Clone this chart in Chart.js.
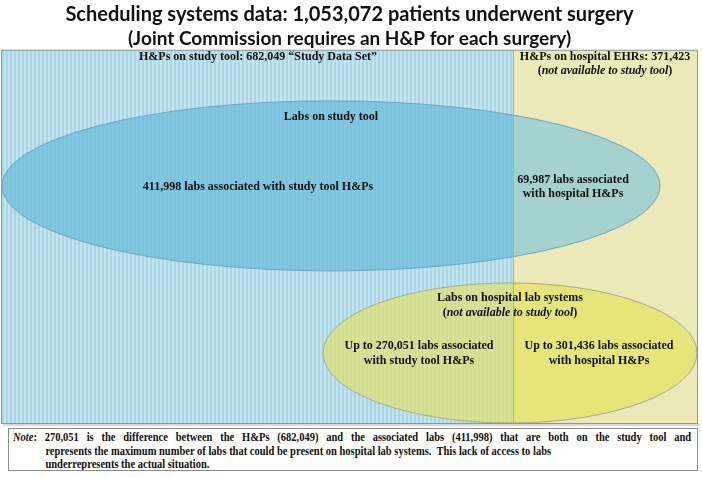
<!DOCTYPE html>
<html>
<head>
<meta charset="utf-8">
<script src="https://cdn.jsdelivr.net/npm/chart.js@4"></script>
<style>
  body { margin: 0; background: #fff; width: 702px; height: 477px; position: relative; overflow: hidden; }
  #wrap { position: absolute; left: 0; top: 0; width: 702px; height: 426px; }
  #note {
    position: absolute; left: 8px; top: 428px; width: 688px; height: 41px;
    border: 1px solid #8c8c8c; overflow: hidden;
  }
  #noteText {
    position: absolute; left: 4px; top: 2px; width: 775px;
    transform: scaleX(0.875); transform-origin: 0 0;
    font: bold 12px "Liberation Serif", "Times New Roman", serif; color: #111; line-height: 13.5px;
  }
  #noteText .l1 { text-align: justify; text-align-last: justify; }
  #noteText .ln { padding-left: 37px; }
</style>
</head>
<body>
<div id="wrap"><canvas id="chart" width="702" height="426"></canvas></div>
<div id="note"><div id="noteText"></div></div>
<script>
// numbers shown in the diagram
const totalPatients = 1053072;
const hpSources = ['study tool', 'hospital EHRs'];
const hpCounts = [682049, 371423];
const labSources = ['Labs on study tool', 'Labs on hospital lab systems'];
const studyToolLabs = [411998, 69987];   // with study tool H&Ps, with hospital H&Ps
const hospitalLabs = [270051, 301436];   // with study tool H&Ps, with hospital H&Ps

const fmt = n => n.toLocaleString('en-US');

// where things sit, in scale units (the scales run over the box in pixels)
const layout = {
  box: { x0: 1, x1: 698, y0: 50, y1: 424 },
  split: 513,
  blue: { cx: 331, cy: 186, rx: 329, ry: 85 },
  yellow: { cx: 510, cy: 353, rx: 187, ry: 70 }
};

function stripePattern(ctx) {
  const c = document.createElement('canvas');
  c.width = 4; c.height = 1;
  const p = c.getContext('2d');
  p.fillStyle = '#c3e4ef'; p.fillRect(0, 0, 4, 1);
  p.fillStyle = '#aad6e6'; p.fillRect(2, 0, 2, 1);
  return ctx.createPattern(c, 'repeat');
}

const diagramPlugin = {
  id: 'diagram',
  beforeDatasetsDraw(chart) {
    const ctx = chart.ctx;
    const X = v => chart.scales.x.getPixelForValue(v);
    const Y = v => chart.scales.y.getPixelForValue(v);
    const b = layout.box;
    const left = X(b.x0), right = X(b.x1), top = Y(b.y0), bottom = Y(b.y1);
    const mid = X(layout.split);

    ctx.save();
    // shadow under the box
    ctx.fillStyle = 'rgba(0,0,0,0.15)';
    ctx.fillRect(left + 2, bottom, right - left, 2);
    // H&P regions
    ctx.fillStyle = stripePattern(ctx);
    ctx.fillRect(left, top, mid - left, bottom - top);
    ctx.fillStyle = '#ebe9b7';
    ctx.fillRect(mid, top, right - mid, bottom - top);

    function ellipse(e, fillL, fillR, stroke) {
      const cx = X(e.cx), cy = Y(e.cy);
      const rx = Math.abs(X(e.cx + e.rx) - cx), ry = Math.abs(Y(e.cy + e.ry) - cy);
      [[left, mid, fillL], [mid, right, fillR]].forEach(([a, z, f]) => {
        ctx.save();
        ctx.beginPath(); ctx.rect(a, top, z - a, bottom - top); ctx.clip();
        ctx.beginPath(); ctx.ellipse(cx, cy, rx, ry, 0, 0, Math.PI * 2);
        ctx.fillStyle = f; ctx.fill();
        ctx.restore();
      });
      ctx.beginPath(); ctx.ellipse(cx, cy, rx, ry, 0, 0, Math.PI * 2);
      ctx.strokeStyle = stroke; ctx.lineWidth = 1; ctx.stroke();
    }
    ellipse(layout.blue, 'rgba(112,190,219,0.78)', 'rgba(135,198,215,0.7)', '#6aa8c2');
    ellipse(layout.yellow, 'rgba(225,225,110,0.7)', 'rgba(230,226,100,0.75)', '#a9a98a');

    // split line and frame
    ctx.strokeStyle = '#9ab3ba';
    ctx.beginPath(); ctx.moveTo(mid + 0.5, top); ctx.lineTo(mid + 0.5, bottom); ctx.stroke();
    ctx.strokeStyle = '#8a979c';
    ctx.strokeRect(left + 0.5, top + 0.5, right - left - 1, bottom - top - 1);

    // labels
    const serif = '"Liberation Serif", "Times New Roman", serif';
    ctx.fillStyle = '#111';
    ctx.textBaseline = 'middle';
    function txt(parts, x, y) {
      // parts: [[text, italic], ...] drawn in one centred line
      const fonts = parts.map(p => (p[1] ? 'italic bold 12px ' : 'bold 12px ') + serif);
      let w = 0;
      parts.forEach((p, i) => { ctx.font = fonts[i]; w += ctx.measureText(p[0]).width; });
      let px = X(x) - w / 2;
      ctx.textAlign = 'left';
      parts.forEach((p, i) => {
        ctx.font = fonts[i]; ctx.fillText(p[0], px, Y(y)); px += ctx.measureText(p[0]).width;
      });
    }
    const notAvail = [['(', false], ['not available to study tool', true], [')', false]];
    txt([['H&Ps on ' + hpSources[0] + ': ' + fmt(hpCounts[0]) + ' \u201CStudy Data Set\u201D', false]], 258, 57);
    txt([['H&Ps on ' + hpSources[1] + ': ' + fmt(hpCounts[1]), false]], 605, 57);
    txt(notAvail, 605, 71);
    txt([[labSources[0], false]], 331, 117);
    txt([[fmt(studyToolLabs[0]) + ' labs associated with study tool H&Ps', false]], 258, 187);
    txt([[fmt(studyToolLabs[1]) + ' labs associated', false]], 573, 180);
    txt([['with hospital H&Ps', false]], 573, 194);
    txt([[labSources[1], false]], 510, 298);
    txt(notAvail, 510, 313);
    txt([['Up to ' + fmt(hospitalLabs[0]) + ' labs associated', false]], 419, 346);
    txt([['with study tool H&Ps', false]], 419, 361);
    txt([['Up to ' + fmt(hospitalLabs[1]) + ' labs associated', false]], 599, 346);
    txt([['with hospital H&Ps', false]], 599, 361);
    ctx.restore();
  }
};

new Chart(document.getElementById('chart'), {
  type: 'scatter',
  data: { datasets: [{ data: [], showLine: false }] },
  options: {
    responsive: false,
    animation: false,
    layout: { padding: { left: 1, right: 4, top: 0, bottom: 2 } },
    scales: {
      x: { display: false, min: layout.box.x0, max: layout.box.x1 },
      y: { display: false, min: layout.box.y0, max: layout.box.y1, reverse: true }
    },
    plugins: {
      legend: { display: false },
      tooltip: { enabled: false },
      title: {
        display: true,
        text: 'Scheduling systems data: ' + fmt(totalPatients) + ' patients underwent surgery',
        color: '#111',
        font: { family: 'Lato', size: 20, weight: 'bold', lineHeight: 1.2 },
        padding: { top: 3, bottom: 0 }
      },
      subtitle: {
        display: true,
        text: '(Joint Commission requires an H&P for each surgery)',
        color: '#111',
        font: { family: 'Lato', size: 19, weight: 'bold', lineHeight: 1.2 },
        padding: { top: 0, bottom: 0 }
      }
    }
  },
  plugins: [diagramPlugin]
});

const labDiff = hpCounts[0] - studyToolLabs[0];
document.getElementById('noteText').innerHTML =
  '<div class="l1"><i>Note</i>: ' + fmt(labDiff) + ' is the difference between the H&amp;Ps (' + fmt(hpCounts[0]) +
  ') and the associated labs (' + fmt(studyToolLabs[0]) + ') that are both on the study tool and</div>' +
  '<div class="ln">represents the maximum number of labs that could be present on hospital lab systems.&nbsp; This lack of access to labs</div>' +
  '<div class="ln">underrepresents the actual situation.</div>';
</script>
</body>
</html>
